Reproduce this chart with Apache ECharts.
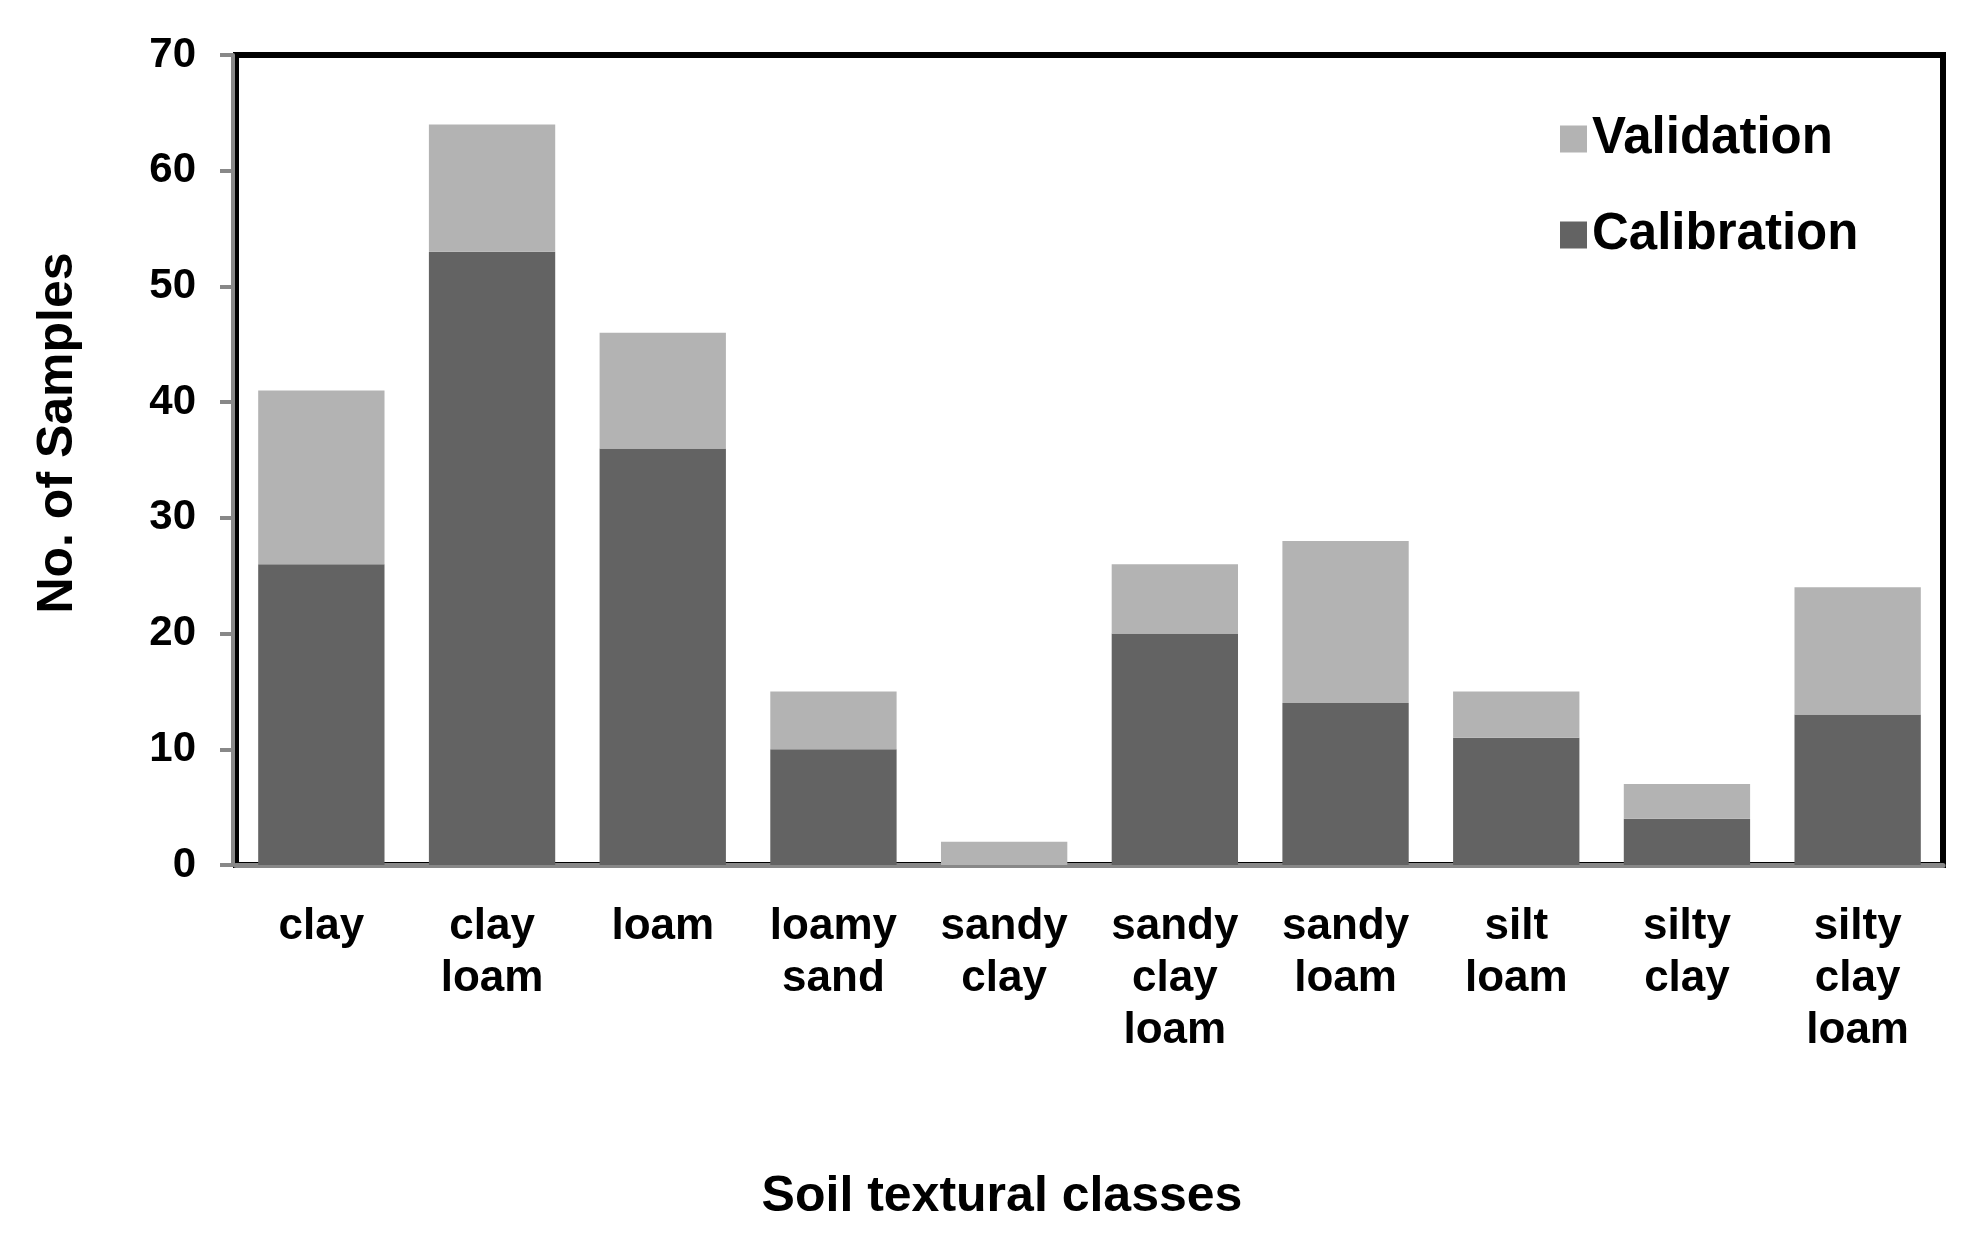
<!DOCTYPE html>
<html>
<head>
<meta charset="utf-8">
<script src="https://cdn.jsdelivr.net/npm/echarts@6/dist/echarts.min.js"></script>
<style>
html,body{margin:0;padding:0;background:#fff;}
#chart{width:1977px;height:1249px;}
</style>
</head>
<body>
<div id="chart"></div>
<script>
const categories = ['clay','clay loam','loam','loamy sand','sandy clay','sandy clay loam','sandy loam','silt loam','silty clay','silty clay loam'];
const calibration = [26, 53, 36, 10, 0, 20, 14, 11, 4, 13];
const validation = [15, 11, 10, 5, 2, 6, 14, 4, 3, 11];
const yTicks = [0, 10, 20, 30, 40, 50, 60, 70];
const xTitle = 'Soil textural classes';
const yTitle = 'No. of Samples';

const FONT = '"Liberation Sans", Arial, Helvetica, sans-serif';
const chart = echarts.init(document.getElementById('chart'));
chart.setOption({
  animation: false,
  backgroundColor: '#fff',
  textStyle: { fontFamily: FONT },
  grid: {
    left: 236, right: 34, top: 55, bottom: 384,
    show: true, borderColor: '#000', borderWidth: 6, backgroundColor: 'transparent'
  },
  legend: {
    orient: 'vertical',
    left: 1555, top: 108,
    itemWidth: 27, itemHeight: 27, itemGap: 44,
    icon: 'rect',
    data: ['Validation', 'Calibration'],
    textStyle: { fontSize: 51, fontWeight: 'bold', color: '#000', fontFamily: FONT, lineHeight: 52 },
    selectedMode: false
  },
  xAxis: {
    type: 'category',
    data: categories,
    offset: 4,
    axisLine: { show: true, lineStyle: { color: '#888', width: 5 } },
    axisTick: { show: false },
    axisLabel: {
      interval: 0, margin: 32,
      fontSize: 44, fontWeight: 'bold', color: '#000', lineHeight: 52, fontFamily: FONT,
      formatter: v => v.split(' ').join('\n')
    },
    splitLine: { show: false }
  },
  yAxis: {
    type: 'value',
    min: yTicks[0], max: yTicks[yTicks.length - 1], interval: 10,
    offset: 3,
    axisLine: { show: true, lineStyle: { color: '#888', width: 4 } },
    axisTick: { show: true, length: 13, lineStyle: { color: '#888', width: 4 } },
    axisLabel: { margin: 37, fontSize: 42, fontWeight: 'bold', color: '#000', fontFamily: FONT },
    splitLine: { show: false }
  },
  graphic: [
    {
      type: 'text', x: 58, y: 433, rotation: Math.PI / 2,
      style: { text: yTitle, fill: '#000', font: 'bold 50px ' + FONT, textAlign: 'center', textVerticalAlign: 'middle' }
    },
    {
      type: 'text', x: 1002, y: 1197,
      style: { text: xTitle, fill: '#000', font: 'bold 50px ' + FONT, textAlign: 'center', textVerticalAlign: 'middle' }
    }
  ],
  series: [
    { name: 'Calibration', type: 'bar', stack: 'total', data: calibration, barWidth: '74%', itemStyle: { color: '#636363' } },
    { name: 'Validation', type: 'bar', stack: 'total', data: validation, barWidth: '74%', itemStyle: { color: '#b3b3b3' } }
  ]
});
</script>
</body>
</html>
